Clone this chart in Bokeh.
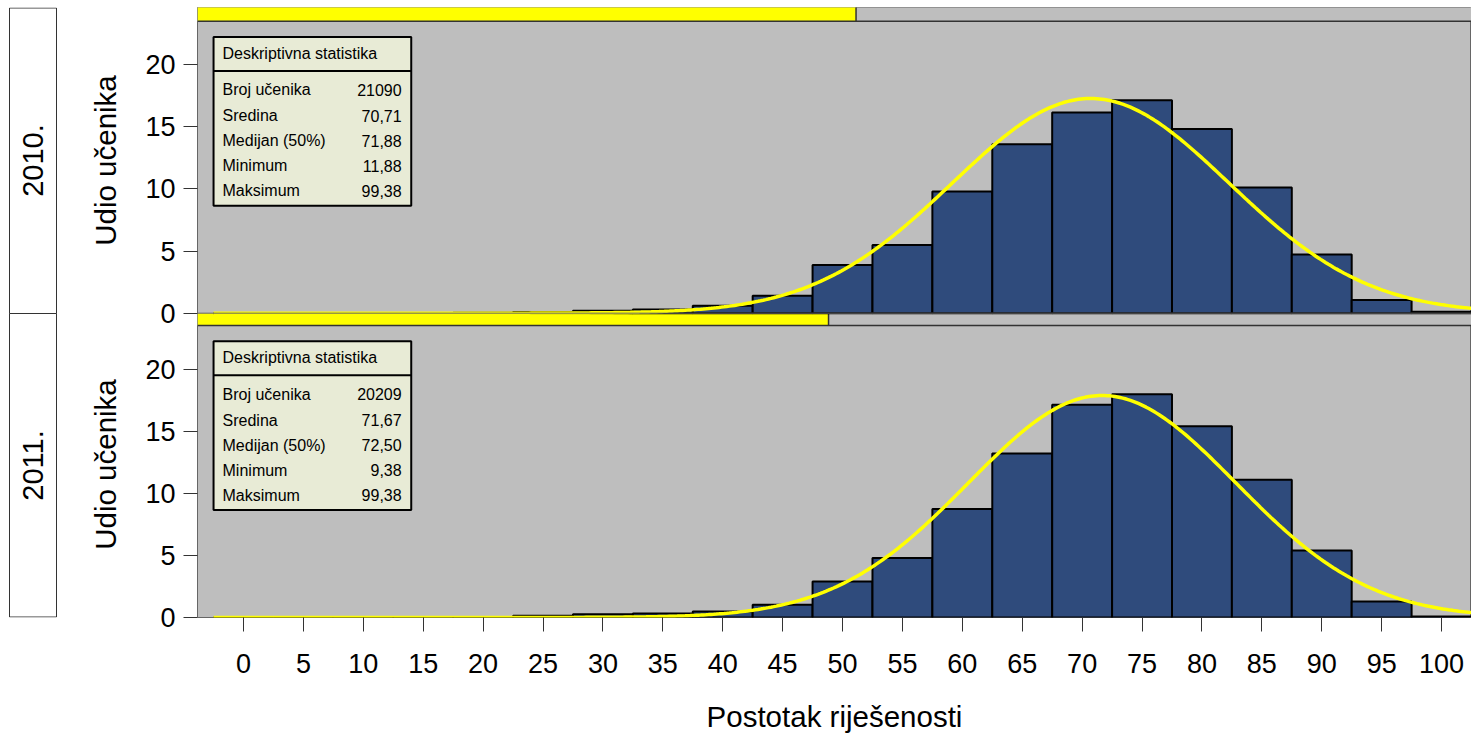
import numpy as np
from bokeh.plotting import figure
from bokeh.layouts import row
from bokeh.models import Range1d, FixedTicker, CustomJSTickFormatter
from bokeh.core.properties import value
from bokeh.embed import file_html
from bokeh.resources import INLINE

# ---------------- data ----------------
bin_centers = [0, 5, 10, 15, 20, 25, 30, 35, 40, 45, 50, 55, 60, 65, 70, 75, 80, 85, 90, 95, 100]
share_2010 = [0, 0, 0.01, 0.02, 0.04, 0.10, 0.20, 0.30, 0.60, 1.41, 3.88, 5.49, 9.80, 13.61,
              16.16, 17.15, 14.82, 10.12, 4.73, 1.06, 0.12]
share_2011 = [0, 0, 0.01, 0.02, 0.05, 0.15, 0.27, 0.32, 0.48, 1.02, 2.90, 4.79, 8.74, 13.20,
              17.13, 17.98, 15.40, 11.10, 5.40, 1.29, 0.08]
years = ["2010.", "2011."]
y_title = "Udio učenika"
x_title = "Postotak riješenosti"
stat_header = "Deskriptivna statistika"
stat_names = ["Broj učenika", "Sredina", "Medijan (50%)", "Minimum", "Maksimum"]
stat_values_2010 = ["21090", "70,71", "71,88", "11,88", "99,38"]
stat_values_2011 = ["20209", "71,67", "72,50", "9,38", "99,38"]
n_2010 = 21090
n_2011 = 20209
mean_2010, sd_2010 = 70.71, 11.54
mean_2011, sd_2011 = 71.67, 11.16
x_ticks = list(range(0, 101, 5))
y_ticks = [0, 5, 10, 15, 20]

FONT = "Liberation Sans"
BIN_W = 5
X0, X1 = -3.84, 102.5
FULL_X1 = 103.8
OFFSET = 24.5          # vertical offset of the upper (2010) panel
YMAX = 49.11
STRIP_B = 23.5

p = figure(width=1336, height=737, x_range=Range1d(X0, X1), y_range=Range1d(0, YMAX),
           output_backend="svg", toolbar_location=None,
           min_border_left=62, min_border_right=0, min_border_top=7, min_border_bottom=120,
           background_fill_color="#bebebe", border_fill_color="white",
           outline_line_color="#666666", outline_line_width=1)
p.grid.visible = False

left = [c - BIN_W / 2 for c in bin_centers]
right = [c + BIN_W / 2 for c in bin_centers]
total = n_2010 + n_2011


def draw_panel(base, shares, stat_vals, mean, sd, frac, strip_top):
    # bars
    p.quad(left=left, right=right, bottom=base, top=[base + s for s in shares],
           fill_color="#2f4b7c", line_color="black", line_width=2)
    # fitted normal curve (percent per 5-point bin)
    xs = np.linspace(-2.5, 106, 500)
    ys = 100 * BIN_W * np.exp(-0.5 * ((xs - mean) / sd) ** 2) / (sd * np.sqrt(2 * np.pi))
    p.line(xs, base + ys, line_color="#ffff00", line_width=3.5)
    # strip (proportion of students)
    yend = X0 + frac * (FULL_X1 - X0)
    sb = base + STRIP_B
    p.quad(left=[X0], right=[X1 + 2], bottom=[sb], top=[strip_top], fill_color="#bebebe",
           line_color=None)
    p.quad(left=[X0], right=[yend], bottom=[sb], top=[strip_top], fill_color="#ffff00",
           line_color=None)
    p.segment(x0=[X0, yend], y0=[sb, sb], x1=[X1 + 2, yend], y1=[sb, strip_top],
              line_color="#333333", line_width=1.5)
    # stats box
    bx0, bx1 = -2.5, 14.0
    p.quad(left=[bx0], right=[bx1], bottom=[base + 8.65], top=[base + 22.24],
           fill_color="#e8ebd6", line_color="black", line_width=2)
    p.segment(x0=[bx0], y0=[base + 19.5], x1=[bx1], y1=[base + 19.5], line_color="black",
              line_width=2)
    p.text(x=[-1.75], y=[base + 20.9], text=[stat_header], text_font=value(FONT),
           text_font_size="16px", text_baseline="middle", text_align="left", text_color="black")
    row_y = [base + v for v in (17.97, 15.88, 13.87, 11.87, 9.86)]
    p.text(x=[-1.75] * 5, y=row_y, text=stat_names, text_font=value(FONT),
           text_font_size="16px", text_baseline="middle", text_align="left", text_color="black")
    p.text(x=[13.2] * 5, y=row_y, text=stat_vals, text_font=value(FONT),
           text_font_size="16px", text_baseline="middle", text_align="right", text_color="black")


draw_panel(0, share_2011, stat_values_2011, mean_2011, sd_2011, n_2011 / total, OFFSET)
draw_panel(OFFSET, share_2010, stat_values_2010, mean_2010, sd_2010, n_2010 / total, YMAX + 1)
# line between the upper panel and the lower strip
p.segment(x0=[X0], y0=[OFFSET], x1=[X1 + 2], y1=[OFFSET], line_color="#666666", line_width=1)

# y axis: ticks 0..20 for each panel
yax = p.yaxis[0]
yax.ticker = FixedTicker(ticks=y_ticks + [OFFSET + t for t in y_ticks])
yax.formatter = CustomJSTickFormatter(args=dict(off=OFFSET),
                                      code="return (tick >= off - 0.01 ? tick - off : tick).toFixed(0);")
yax.major_label_text_font = FONT
yax.major_label_text_font_size = "27px"
yax.major_label_text_color = "black"
yax.major_label_standoff = 8
yax.major_tick_in = 0
yax.major_tick_out = 14
yax.major_tick_line_color = "#333333"
yax.minor_tick_line_color = None
yax.axis_line_color = None

xax = p.xaxis[0]
xax.ticker = FixedTicker(ticks=x_ticks)
xax.axis_label = x_title
xax.axis_label_text_font = FONT
xax.axis_label_text_font_style = "normal"
xax.axis_label_text_font_size = "29.5px"
xax.axis_label_text_color = "black"
xax.axis_label_standoff = 24
xax.major_label_text_font = FONT
xax.major_label_text_font_size = "27px"
xax.major_label_text_color = "black"
xax.major_label_standoff = 22
xax.major_tick_in = 0
xax.major_tick_out = 14
xax.major_tick_line_color = "#333333"
xax.minor_tick_line_color = None
xax.axis_line_color = None

# left side: year strips and y titles (frame aligned with the main plot's frame: page y 7..617)
s = figure(width=135, height=737, x_range=Range1d(0, 135), y_range=Range1d(617, 7),
           output_backend="svg", toolbar_location=None, x_axis_location=None,
           y_axis_location=None, min_border_left=0, min_border_right=0,
           min_border_top=7, min_border_bottom=120, outline_line_color=None,
           background_fill_color="white", border_fill_color="white")
s.grid.visible = False
s.quad(left=[9, 9], right=[56, 56], top=[7.5, 313], bottom=[313, 616.5], fill_color="white",
       line_color="#333333", line_width=1)
s.text(x=[32.5, 32.5], y=[160, 465], text=years, angle=np.pi / 2, text_font=value(FONT),
       text_font_size="29px", text_align="center", text_baseline="middle", text_color="black")
s.text(x=[105, 105], y=[160, 464], text=[y_title, y_title], angle=np.pi / 2,
       text_font=value(FONT), text_font_size="29.5px", text_align="center",
       text_baseline="middle", text_color="black")

layout = row(s, p)
open("out.html", "w").write(file_html(layout, INLINE))
